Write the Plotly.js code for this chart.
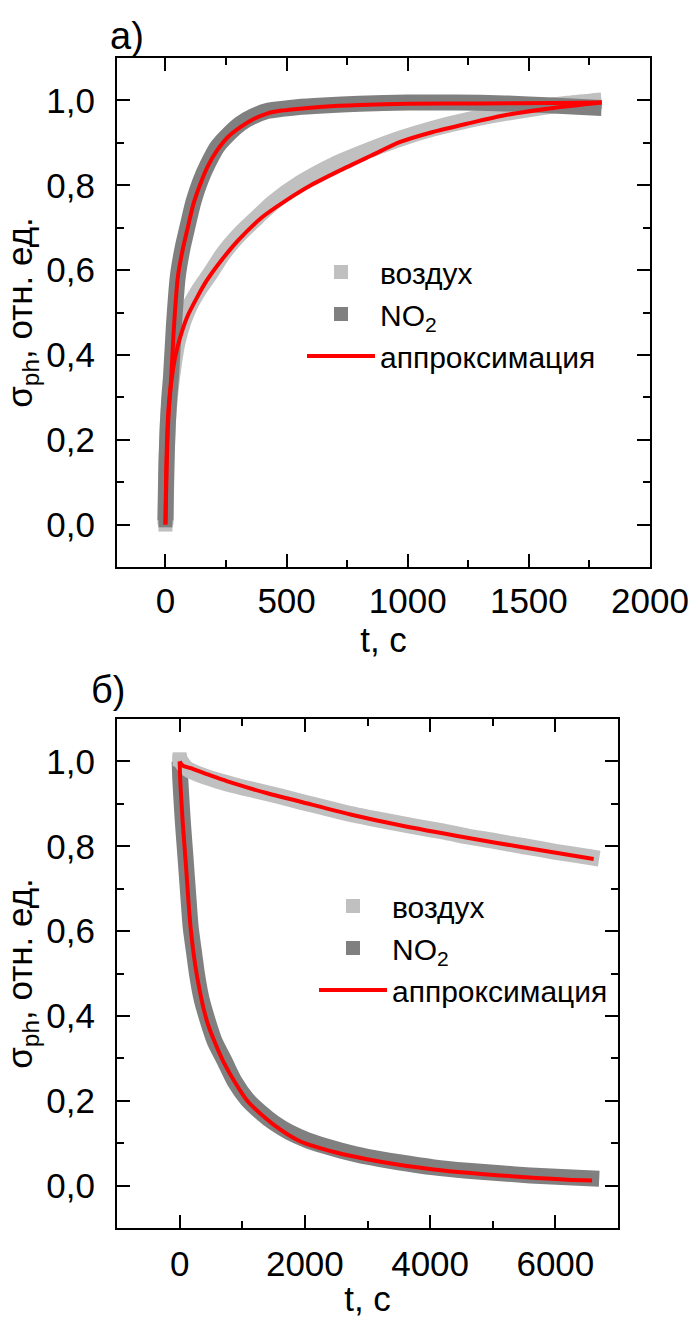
<!DOCTYPE html>
<html>
<head>
<meta charset="utf-8">
<script src="https://cdn.plot.ly/plotly-3.0.1.min.js"></script>
<style>html,body{margin:0;padding:0;background:#fff;}</style>
</head>
<body>
<div id="chart" style="width:694px;height:1319px;"></div>
<script>
// ---- panel a) rise ----
const aAirT  = [0, 5, 10, 20, 35, 50, 75, 100, 140, 185, 240, 309, 380, 446, 556, 694, 850, 969, 1100, 1244, 1380, 1518, 1660, 1800];
const aAirV  = [0.0, 0.15, 0.24, 0.31, 0.38, 0.43, 0.48, 0.515, 0.555, 0.592, 0.64, 0.686, 0.725, 0.76, 0.805, 0.848, 0.885, 0.91, 0.933, 0.953, 0.968, 0.981, 0.992, 1.0];
const aNo2T  = [0, 2, 4, 6, 10, 16, 23, 35, 51, 70, 92, 115, 144, 175, 213, 260, 309, 360, 419, 480, 543, 650, 800, 1000, 1200, 1400, 1600, 1800];
const aNo2V  = [0.01, 0.087, 0.145, 0.18, 0.24, 0.30, 0.35, 0.47, 0.585, 0.65, 0.705, 0.76, 0.81, 0.85, 0.89, 0.92, 0.945, 0.962, 0.975, 0.98, 0.984, 0.988, 0.992, 0.995, 0.995, 0.993, 0.988, 0.982];
const aFitAirT = [0, 5, 12, 23, 40, 60, 90, 130, 170, 220, 300, 400, 500, 600, 721, 850, 969, 1100, 1244, 1400, 1600, 1800];
const aFitAirV = [0, 0.14, 0.25, 0.33, 0.395, 0.44, 0.49, 0.535, 0.575, 0.615, 0.67, 0.725, 0.765, 0.80, 0.835, 0.87, 0.902, 0.925, 0.945, 0.965, 0.982, 0.995];
const aFitNo2T = [0, 3, 6, 10, 15, 23, 35, 51, 70, 92, 115, 144, 175, 213, 260, 309, 360, 419, 480, 543, 650, 800, 1000, 1300, 1600, 1800];
const aFitNo2V = [0.0, 0.12, 0.19, 0.25, 0.29, 0.34, 0.465, 0.583, 0.645, 0.70, 0.755, 0.803, 0.845, 0.882, 0.915, 0.937, 0.955, 0.969, 0.976, 0.98, 0.985, 0.989, 0.992, 0.993, 0.994, 0.995];

// ---- panel б) decay ----
const bAirT  = [0, 100, 300, 600, 867, 1200, 1600, 1931, 2400, 2729, 3200, 3700, 4200, 4600, 5000, 5500, 6000, 6400, 6700];
const bAirV  = [1.005, 0.985, 0.97, 0.955, 0.944, 0.932, 0.918, 0.905, 0.888, 0.876, 0.862, 0.848, 0.835, 0.823, 0.813, 0.80, 0.787, 0.778, 0.771];
const bNo2T  = [0, 10, 25, 50, 96, 140, 176, 230, 282, 350, 442, 560, 707, 880, 1080, 1300, 1505, 1750, 2038, 2300, 2569, 2995, 3500, 4059, 4600, 5123, 5600, 6100, 6700];
const bNo2V  = [1.0, 0.96, 0.92, 0.86, 0.769, 0.68, 0.61, 0.55, 0.494, 0.44, 0.392, 0.34, 0.297, 0.245, 0.203, 0.172, 0.148, 0.126, 0.107, 0.094, 0.083, 0.068, 0.055, 0.043, 0.035, 0.029, 0.024, 0.02, 0.016];
const bFitAirT = [0, 50, 175, 400, 867, 1400, 1931, 2729, 3500, 4591, 5500, 6612];
const bFitAirV = [1.0, 0.99, 0.984, 0.972, 0.948, 0.925, 0.905, 0.875, 0.85, 0.82, 0.797, 0.77];
const bFitNo2T = [0, 10, 25, 50, 96, 176, 282, 442, 707, 1080, 1505, 1931, 2500, 2995, 3500, 4059, 4600, 5123, 5700, 6200, 6586];
const bFitNo2V = [1.0, 0.955, 0.915, 0.855, 0.765, 0.607, 0.49, 0.385, 0.29, 0.20, 0.143, 0.104, 0.078, 0.062, 0.049, 0.038, 0.03, 0.024, 0.018, 0.014, 0.012];

// number of leading points that show as separate squares
const aAirSq = 2, aNo2Sq = 4, bAirSq = 1, bNo2Sq = 1;

const nameAir = 'воздух';
const nameNo2 = 'NO<sub>2</sub>';
const nameFit = 'аппроксимация';
const xTitle = 't, с';
const yTitle = 'σ<sub>ph</sub>, отн. ед.';

const cAir = '#c0c0c0', cNo2 = '#808080', cFit = '#ff0000';
const BAND = 16, MSZ = 14, FITW = 4;

function band(x, y, c, xa, ya) {
  return {type:'scatter', mode:'lines', x:x, y:y, xaxis:xa, yaxis:ya, showlegend:false, hoverinfo:'skip',
          line:{color:c, width:BAND, shape:'spline', smoothing:0.7}};
}
function pts(x, y, n, c, name, xa, ya, leg, rank) {
  return {type:'scatter', mode:'markers', x:x.slice(0, n), y:y.slice(0, n), xaxis:xa, yaxis:ya, name:name, legend:leg, legendrank:rank,
          marker:{symbol:'square', size:MSZ, color:c}};
}
function fit(x, y, xa, ya, leg, show) {
  return {type:'scatter', mode:'lines', x:x, y:y, xaxis:xa, yaxis:ya, name:nameFit, legend:leg, legendrank:3,
          showlegend:show, line:{color:cFit, width:FITW, shape:'spline', smoothing:0.7}};
}

const data = [
  band(aAirT, aAirV, cAir, 'x', 'y'),
  pts(aAirT, aAirV, aAirSq, cAir, nameAir, 'x', 'y', 'legend', 1),
  band(aNo2T, aNo2V, cNo2, 'x', 'y'),
  pts(aNo2T, aNo2V, aNo2Sq, cNo2, nameNo2, 'x', 'y', 'legend', 2),
  fit(aFitAirT, aFitAirV, 'x', 'y', 'legend', true),
  fit(aFitNo2T, aFitNo2V, 'x', 'y', 'legend', false),

  band(bNo2T, bNo2V, cNo2, 'x2', 'y2'),
  pts(bNo2T, bNo2V, bNo2Sq, cNo2, nameNo2, 'x2', 'y2', 'legend2', 2),
  band(bAirT, bAirV, cAir, 'x2', 'y2'),
  pts(bAirT, bAirV, bAirSq, cAir, nameAir, 'x2', 'y2', 'legend2', 1),
  fit(bFitAirT, bFitAirV, 'x2', 'y2', 'legend2', true),
  fit(bFitNo2T, bFitNo2V, 'x2', 'y2', 'legend2', false)
];

const FONT = 'Liberation Sans, Arial, sans-serif';
function axBase() {
  return {showline:true, linewidth:2, linecolor:'#000', mirror:'allticks', ticks:'inside', ticklen:13, tickwidth:2,
          tickcolor:'#000', showgrid:false, zeroline:false, fixedrange:true,
          tickfont:{family:FONT, size:35, color:'#000'}};
}
const W = 694, H = 1319;
const xa1 = Object.assign(axBase(), {domain:[117/W, 650/W], anchor:'y', range:[-200, 2000], tick0:0, dtick:500,
  minor:{ticks:'inside', ticklen:7, tickwidth:2, tickcolor:'#000', dtick:250, tick0:0, showgrid:false},
  ticklabelstandoff:2, title:{text:xTitle, font:{family:FONT, size:35}, standoff:4}});
const ya1 = Object.assign(axBase(), {domain:[1-567/H, 1-58/H], anchor:'x', range:[-0.1, 1.1], tick0:0, dtick:0.2, tickformat:'.1f',
  minor:{ticks:'inside', ticklen:7, tickwidth:2, tickcolor:'#000', dtick:0.1, tick0:0, showgrid:false},
  ticklabelstandoff:13, title:{text:yTitle, font:{family:FONT, size:35}, standoff:4}});
const xa2 = Object.assign(axBase(), {domain:[117/W, 618/W], anchor:'y2', range:[-1000, 7000], tick0:0, dtick:2000,
  minor:{ticks:'inside', ticklen:7, tickwidth:2, tickcolor:'#000', dtick:1000, tick0:0, showgrid:false},
  ticklabelstandoff:4, title:{text:xTitle, font:{family:FONT, size:35}, standoff:4}});
const ya2 = Object.assign(axBase(), {domain:[1-1228/H, 1-719/H], anchor:'x2', range:[-0.1, 1.1], tick0:0, dtick:0.2, tickformat:'.1f',
  minor:{ticks:'inside', ticklen:7, tickwidth:2, tickcolor:'#000', dtick:0.1, tick0:0, showgrid:false},
  ticklabelstandoff:13, title:{text:yTitle, font:{family:FONT, size:35}, standoff:4}});

const legBase = {bgcolor:'rgba(0,0,0,0)', borderwidth:0, xanchor:'left', yanchor:'top', itemwidth:68,
                 font:{family:FONT, size:30, color:'#000'}, traceorder:'normal', itemclick:false, itemdoubleclick:false};

const layout = {
  width:W, height:H, margin:{l:0, r:0, t:0, b:0}, separators:', ',
  paper_bgcolor:'#fff', plot_bgcolor:'#fff', showlegend:true,
  font:{family:FONT, size:35, color:'#000'},
  xaxis:xa1, yaxis:ya1, xaxis2:xa2, yaxis2:ya2,
  legend:Object.assign({}, legBase, {x:302/W, y:1-246/H, tracegroupgap:0}),
  legend2:Object.assign({}, legBase, {x:314/W, y:1-880/H, tracegroupgap:0}),
  annotations:[
    {text:'a)', xref:'paper', yref:'paper', x:108/W, y:1-36/H, xanchor:'left', yanchor:'middle', showarrow:false,
     font:{family:FONT, size:38, color:'#000'}},
    {text:'б)', xref:'paper', yref:'paper', x:89/W, y:1-690/H, xanchor:'left', yanchor:'middle', showarrow:false,
     font:{family:FONT, size:38, color:'#000'}}
  ]
};

Plotly.newPlot('chart', data, layout, {staticPlot:true, displayModeBar:false});
</script>
</body>
</html>
